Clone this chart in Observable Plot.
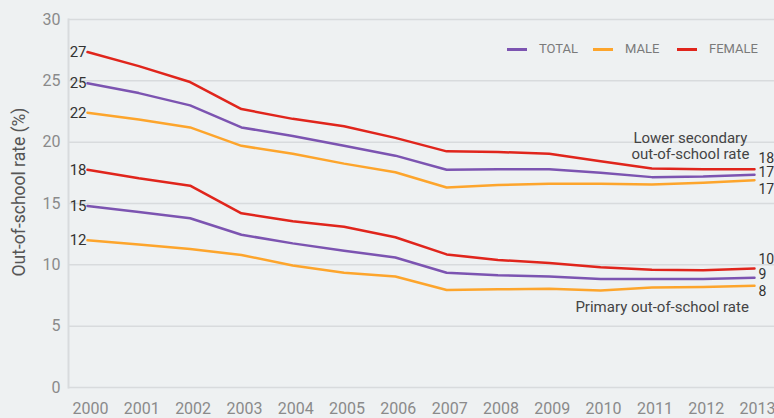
<!DOCTYPE html>
<html><head><meta charset="utf-8">
<script src="https://cdn.jsdelivr.net/npm/d3@7"></script>
<script src="https://cdn.jsdelivr.net/npm/@observablehq/plot@0.6"></script>
<style>
body{margin:0;background:#eef1f2;font-family:Roboto,sans-serif;}
#wrap{position:relative;width:774px;height:418px;background:#eef1f2;overflow:hidden}
.lg{position:absolute;top:41px;font-size:13px;color:#7a7a7a;line-height:16px;white-space:nowrap}
.sw{position:absolute;top:48px;width:20px;height:3px}
</style></head><body><div id="wrap"></div>
<script>
const years = [2000,2001,2002,2003,2004,2005,2006,2007,2008,2009,2010,2011,2012,2013];
const lowerTotal   = [24.8,24.0,23.0,21.2,20.5,19.7,18.9,17.75,17.8,17.8,17.5,17.15,17.2,17.35];
const lowerMale    = [22.4,21.85,21.2,19.7,19.05,18.25,17.55,16.3,16.5,16.6,16.6,16.55,16.7,16.9];
const lowerFemale  = [27.35,26.2,24.9,22.7,21.9,21.3,20.35,19.25,19.2,19.05,18.45,17.85,17.8,17.8];
const primaryTotal = [14.8,14.3,13.8,12.45,11.75,11.15,10.6,9.35,9.15,9.05,8.85,8.85,8.85,8.95];
const primaryMale  = [12.0,11.65,11.3,10.8,9.95,9.35,9.05,7.95,8.0,8.05,7.9,8.15,8.2,8.3];
const primaryFemale= [17.75,17.05,16.45,14.2,13.55,13.1,12.25,10.85,10.4,10.15,9.8,9.6,9.55,9.7];
const sexes = ["Total","Male","Female"];
const colors = ["#7c54b1","#fda52c","#e0251c"];
const legendLabels = ["TOTAL","MALE","FEMALE"];
const yTicks = [0,5,10,15,20,25,30];
const yTitle = "Out-of-school rate (%)";
const lowerNote = "Lower secondary\nout-of-school rate";
const primaryNote = "Primary out-of-school rate";

const seriesList = [
  {level:"lower", sex:"Total", values: lowerTotal},
  {level:"lower", sex:"Male", values: lowerMale},
  {level:"lower", sex:"Female", values: lowerFemale},
  {level:"primary", sex:"Total", values: primaryTotal},
  {level:"primary", sex:"Male", values: primaryMale},
  {level:"primary", sex:"Female", values: primaryFemale}
];
const rows = seriesList.flatMap(s => s.values.map((v,i) => ({year: years[i], value: v, level: s.level, sex: s.sex, key: s.level + s.sex})));
const first = rows.filter(d => d.year === years[0]);
const last = key => rows.filter(d => d.year === years[years.length-1] && d.key === key);
const endLabel = (key, dy) => Plot.text(last(key), {x:"year", y:"value", text: d => Math.round(d.value), textAnchor:"start", dx:4, dy, fontSize:14, fill:"#333"});

const plot = Plot.plot({
  width: 774, height: 418,
  marginLeft: 68, marginRight: 0, marginTop: 19, marginBottom: 31,
  insetLeft: 19, insetRight: 20,
  style: {background: "transparent", fontFamily: "Roboto, sans-serif"},
  x: {domain: [years[0], years[years.length-1]], ticks: years, tickFormat: d => String(d)},
  y: {domain: [0, 30]},
  color: {domain: sexes, range: colors},
  marks: [
    Plot.ruleY(yTicks, {stroke: "#d8dbdd", strokeWidth: 1.5}),
    Plot.frame({anchor: "left", stroke: "#d8dbdd", strokeWidth: 2}),
    Plot.axisX({ticks: years, tickSize: 0, tickPadding: 15, fontSize: 16, color: "#8a8a8a", dx: 3, label: null, tickFormat: d => String(d)}),
    Plot.axisY({ticks: yTicks, tickSize: 0, tickPadding: 8, fontSize: 16, color: "#8a8a8a", label: null}),
    Plot.line(rows, {x: "year", y: "value", z: "key", stroke: "sex", strokeWidth: 2.5}),
    Plot.text(first, {x: "year", y: "value", text: d => Math.round(d.value), textAnchor: "end", dx: -1, fontSize: 15, fill: "#333"}),
    endLabel("lowerFemale", -11),
    endLabel("lowerTotal", -2),
    endLabel("lowerMale", 9.5),
    endLabel("primaryFemale", -9),
    endLabel("primaryTotal", -3),
    endLabel("primaryMale", 6),
    Plot.text([lowerNote], {x: 2011.75, y: 19.73, text: d => d, fontSize: 15, fill: "#444", lineHeight: 1.1}),
    Plot.text([primaryNote], {x: 2011.2, y: 6.53, text: d => d, fontSize: 15, fill: "#444"})
  ]
});
d3.select(plot).append("text")
  .attr("transform", "translate(20,192) rotate(-90)")
  .attr("text-anchor", "middle").attr("dominant-baseline", "middle")
  .attr("font-size", 17.5).attr("fill", "#555").attr("font-family", "Roboto, sans-serif")
  .text(yTitle);
const wrap = document.getElementById("wrap");
wrap.appendChild(plot);
const swX = [507, 593, 677], txX = [539, 625, 709];
legendLabels.forEach((l, i) => {
  const s = document.createElement("div"); s.className = "sw"; s.style.left = swX[i] + "px"; s.style.background = colors[i]; wrap.appendChild(s);
  const t = document.createElement("div"); t.className = "lg"; t.style.left = txX[i] + "px"; t.textContent = l; wrap.appendChild(t);
});
</script></body></html>
